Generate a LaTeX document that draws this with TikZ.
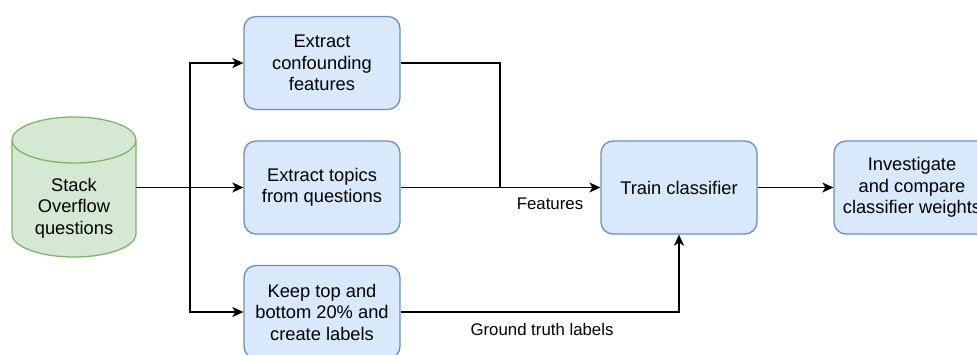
\documentclass[tikz,border=0pt]{standalone}
\usepackage{fontspec}
\setmainfont{Liberation Sans}
\usetikzlibrary{arrows.meta}
\definecolor{boxfill}{HTML}{DAE8FC}
\definecolor{boxdraw}{HTML}{6C8EBF}
\definecolor{cylfill}{HTML}{D5E8D4}
\definecolor{cyldraw}{HTML}{82B366}
\begin{document}
\begin{tikzpicture}[x=1pt,y=-1pt,
  procbox/.style={draw=boxdraw, fill=boxfill, line width=1.3pt, rounded corners=12pt,
    minimum width=156pt, minimum height=93pt, align=center, inner sep=0pt,
    font=\fontsize{18.3}{21.5}\selectfont},
  conn/.style={line width=1.6pt, black},
  arr/.style={conn, -{Stealth[length=11pt,width=10pt,inset=3pt]}},
  elabel/.style={font=\fontsize{16.8}{20}\selectfont, inner sep=0pt}]
\useasboundingbox (0,0) rectangle (977,354);
\clip (0,0) rectangle (977,354);
% cylinder
\filldraw[fill=cylfill, draw=cyldraw, line width=1.3pt]
  (12,140) -- (12,234) arc[start angle=180, end angle=0, x radius=62, y radius=23]
  -- (136,140) arc[start angle=0, end angle=-180, x radius=62, y radius=23] -- cycle;
\draw[draw=cyldraw, line width=1.3pt] (12,140) arc[start angle=180, end angle=0, x radius=62, y radius=23];
\node[align=center, inner sep=0pt, font=\fontsize{18.3}{21.5}\selectfont] (cyl) at (74,208) {Stack\\Overflow\\questions};
\coordinate (cylout) at (136,187.5);
% boxes
\node[procbox] (conf) at (322,63) {Extract\\confounding\\features};
\node[procbox] (topics) at (322,187.5) {Extract topics\\from questions};
\node[procbox] (keep) at (322,312) {Keep top and\\bottom 20\% and\\create labels};
\node[procbox] (train) at (679,187.5) {Train classifier};
\node[procbox] (inv) at (912,187.5) {Investigate\\and compare\\classifier weights};
% connectors
\coordinate (split) at (190,187.5);
\coordinate (join) at (500,187.5);
\draw[arr] (cylout) -- (topics.west);
\draw[arr] (split) |- (conf.west);
\draw[arr] (split) |- (keep.west);
\draw[conn] (conf.east) -| (join);
\draw[arr] (topics.east) -- (train.west);
\node[elabel] (flab) at (550,204) {Features};
\draw[arr] (keep.east) -| (train.south);
\node[elabel] (glab) at (542,329) {Ground truth labels};
\draw[arr] (train.east) -- (inv.west);
\end{tikzpicture}
\end{document}
